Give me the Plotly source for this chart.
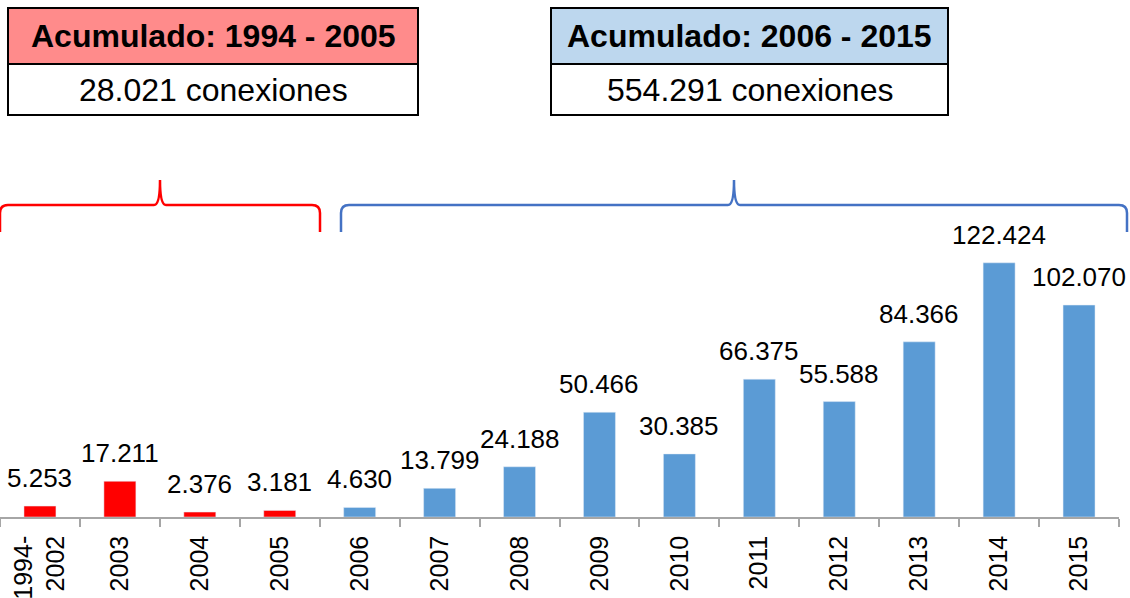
import plotly.graph_objects as go

# data
categories = ["1994-<br>2002", "2003", "2004", "2005", "2006", "2007", "2008",
              "2009", "2010", "2011", "2012", "2013", "2014", "2015"]
conexiones = [5253, 17211, 2376, 3181, 4630, 13799, 24188,
              50466, 30385, 66375, 55588, 84366, 122424, 102070]
periodo = ["1994-2005"] * 4 + ["2006-2015"] * 10
total_1 = "28.021 conexiones"
total_2 = "554.291 conexiones"

W, H = 1130, 598
ML, MR, MT, MB = 0, 11, 0, 81
PW, PH = W - ML - MR, H - MT - MB
FONT = "Arial, Liberation Sans, sans-serif"

RED = "#FF0000"
BLUE = "#5B9BD5"
colors = [RED if p == "1994-2005" else BLUE for p in periodo]


def fmt(v):
    return f"{v:,}".replace(",", ".")


def px(x):
    return (x - ML) / PW


def py(y):
    return 1 - (y - MT) / PH


fig = go.Figure(go.Bar(
    x=categories, y=conexiones, marker_color=colors, width=0.4,
    hoverinfo="skip",
))

# value labels (x as category index, since year strings look numeric)
for i, v in enumerate(conexiones):
    fig.add_annotation(x=i, y=v, text=fmt(v), showarrow=False,
                       xanchor="center", yanchor="bottom", yshift=11,
                       font=dict(family=FONT, size=26, color="black"))


def brace(x0, x1, y_top, y_tip, y_end, color):
    xm = (x0 + x1) / 2
    r = 8
    path = (f"M {px(x0)},{py(y_end)} L {px(x0)},{py(y_top + r)} "
            f"Q {px(x0)},{py(y_top)} {px(x0 + r)},{py(y_top)} "
            f"L {px(xm - 6)},{py(y_top)} Q {px(xm)},{py(y_top)} {px(xm)},{py(y_tip)} "
            f"Q {px(xm)},{py(y_top)} {px(xm + 6)},{py(y_top)} "
            f"L {px(x1 - r)},{py(y_top)} Q {px(x1)},{py(y_top)} {px(x1)},{py(y_top + r)} "
            f"L {px(x1)},{py(y_end)}")
    fig.add_shape(type="path", path=path, xref="paper", yref="paper",
                  line=dict(color=color, width=2.5))


brace(0, 320, 205, 180, 232, RED)
brace(341, 1127, 205, 180, 232, "#4472C4")


def box(x0, x1, fill, title, body):
    y0, ym, y1 = 8, 64, 115
    fig.add_shape(type="rect", xref="paper", yref="paper",
                  x0=px(x0), x1=px(x1), y0=py(ym), y1=py(y0),
                  fillcolor=fill, line=dict(color="black", width=2))
    fig.add_shape(type="rect", xref="paper", yref="paper",
                  x0=px(x0), x1=px(x1), y0=py(y1), y1=py(ym),
                  fillcolor="white", line=dict(color="black", width=2))
    xm = px((x0 + x1) / 2)
    fig.add_annotation(x=xm, y=py((y0 + ym) / 2), xref="paper", yref="paper",
                       xanchor="center", yanchor="middle",
                       text=f"<b>{title}</b>", showarrow=False,
                       font=dict(family=FONT, size=32, color="black"))
    fig.add_annotation(x=xm, y=py((ym + y1) / 2), xref="paper", yref="paper",
                       xanchor="center", yanchor="middle",
                       text=body, showarrow=False,
                       font=dict(family=FONT, size=32, color="black"))


box(8, 418, "#FF8B8B", "Acumulado: 1994 - 2005", total_1)
box(551, 948, "#BDD7EE", "Acumulado: 2006 - 2015", total_2)

fig.update_layout(
    width=W, height=H,
    margin=dict(l=ML, r=MR, t=MT, b=MB),
    plot_bgcolor="white", paper_bgcolor="white",
    showlegend=False,
    font=dict(family=FONT, size=25, color="black"),
)
fig.update_xaxes(
    type="category", range=[-0.5, len(categories) - 0.5], tickangle=-90,
    showline=True, linecolor="#A6A6A6", linewidth=1.5,
    ticks="outside", tickson="boundaries", ticklen=8, ticklabelstandoff=7,
    tickcolor="#A6A6A6", tickwidth=1.5, showgrid=False, automargin=False,
    tickfont=dict(family=FONT, size=25, color="black"),
)
fig.update_yaxes(visible=False, range=[0, 249000])

# remove the default 8px body margin so the figure fills the window
fig.write_html("out.html", config={"displayModeBar": False},
               post_script="document.body.style.margin='0';")
